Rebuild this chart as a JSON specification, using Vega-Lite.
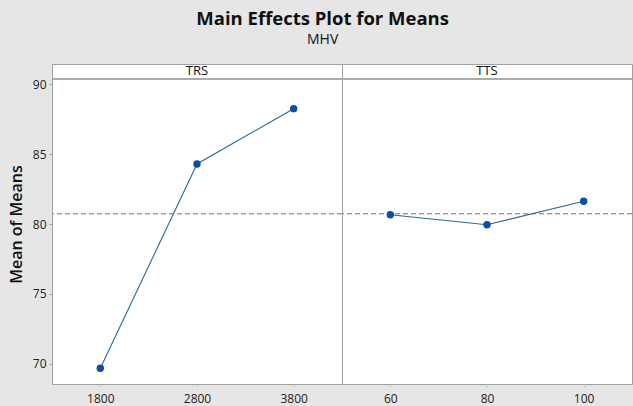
{
  "$schema": "https://vega.github.io/schema/vega-lite/v6.json",
  "background": "#e6e6e6",
  "autosize": {"type": "pad"},
  "padding": {"left": 8, "top": 10, "right": 1, "bottom": 1},
  "bounds": "flush",
  "title": {
    "text": "Main Effects Plot for Means",
    "subtitle": "MHV",
    "anchor": "middle",
    "font": "Open Sans",
    "fontSize": 18.5,
    "fontWeight": "bold",
    "color": "#111",
    "subtitleFont": "Open Sans",
    "subtitleFontSize": 14,
    "subtitleColor": "#111",
    "subtitlePadding": 4,
    "offset": 17,
    "dx": 2
  },
  "data": {
    "values": [
      {"factor": "TRS", "level": 1800, "mean": 69.69},
      {"factor": "TRS", "level": 2800, "mean": 84.29},
      {"factor": "TRS", "level": 3800, "mean": 88.24},
      {"factor": "TTS", "level": 60, "mean": 80.66},
      {"factor": "TTS", "level": 80, "mean": 79.95},
      {"factor": "TTS", "level": 100, "mean": 81.62}
    ]
  },
  "facet": {"column": {"field": "factor", "type": "nominal", "header": null}},
  "spacing": 0,
  "resolve": {"scale": {"x": "independent"}, "axis": {"x": "independent"}},
  "spec": {
    "width": 290,
    "height": 320,
    "layer": [
      {
        "mark": {"type": "rule", "color": "#999999", "strokeDash": [5, 3], "strokeWidth": 1},
        "encoding": {"y": {"datum": 80.74}}
      },
      {
        "mark": {"type": "rule", "color": "#a0a0a0", "strokeWidth": 1},
        "encoding": {"y": {"datum": 90.36}}
      },
      {
        "transform": [{"filter": "datum.level == 2800 || datum.level == 80"}],
        "mark": {"type": "text", "font": "Open Sans", "fontSize": 13, "color": "#111", "baseline": "middle"},
        "encoding": {
          "x": {"field": "level", "type": "ordinal"},
          "y": {"datum": 90.92},
          "text": {"field": "factor"}
        }
      },
      {
        "mark": {"type": "line", "color": "#2a6a96", "strokeWidth": 1.1},
        "encoding": {
          "x": {"field": "level", "type": "ordinal"},
          "y": {"field": "mean", "type": "quantitative"}
        }
      },
      {
        "mark": {"type": "point", "filled": true, "color": "#0b4fa0", "opacity": 1, "size": 55},
        "encoding": {
          "x": {
            "field": "level",
            "type": "ordinal",
            "scale": {"type": "point", "padding": 0.5},
            "axis": {
              "title": null,
              "labelAngle": 0,
              "labelAlign": "center",
              "labelBaseline": "top",
              "labelFont": "Open Sans",
              "labelFontSize": 12,
              "labelColor": "#222",
              "labelPadding": 6,
              "tickColor": "#c8c8c8",
              "tickSize": 3,
              "domain": false
            }
          },
          "y": {
            "field": "mean",
            "type": "quantitative",
            "scale": {"domain": [68.57, 91.43], "nice": false, "zero": false},
            "axis": {
              "values": [70, 75, 80, 85, 90],
              "title": "Mean of Means",
              "titleFont": "Open Sans",
              "titleFontSize": 16,
              "titleFontWeight": 600,
              "titleColor": "#111",
              "titlePadding": 8,
              "labelFont": "Open Sans",
              "labelFontSize": 12,
              "labelColor": "#222",
              "labelPadding": 3,
              "tickColor": "#a0a0a0",
              "tickSize": 3,
              "grid": false,
              "domain": false
            }
          }
        }
      }
    ]
  },
  "config": {
    "view": {"fill": "white", "stroke": "#a0a0a0", "strokeWidth": 1}
  }
}
